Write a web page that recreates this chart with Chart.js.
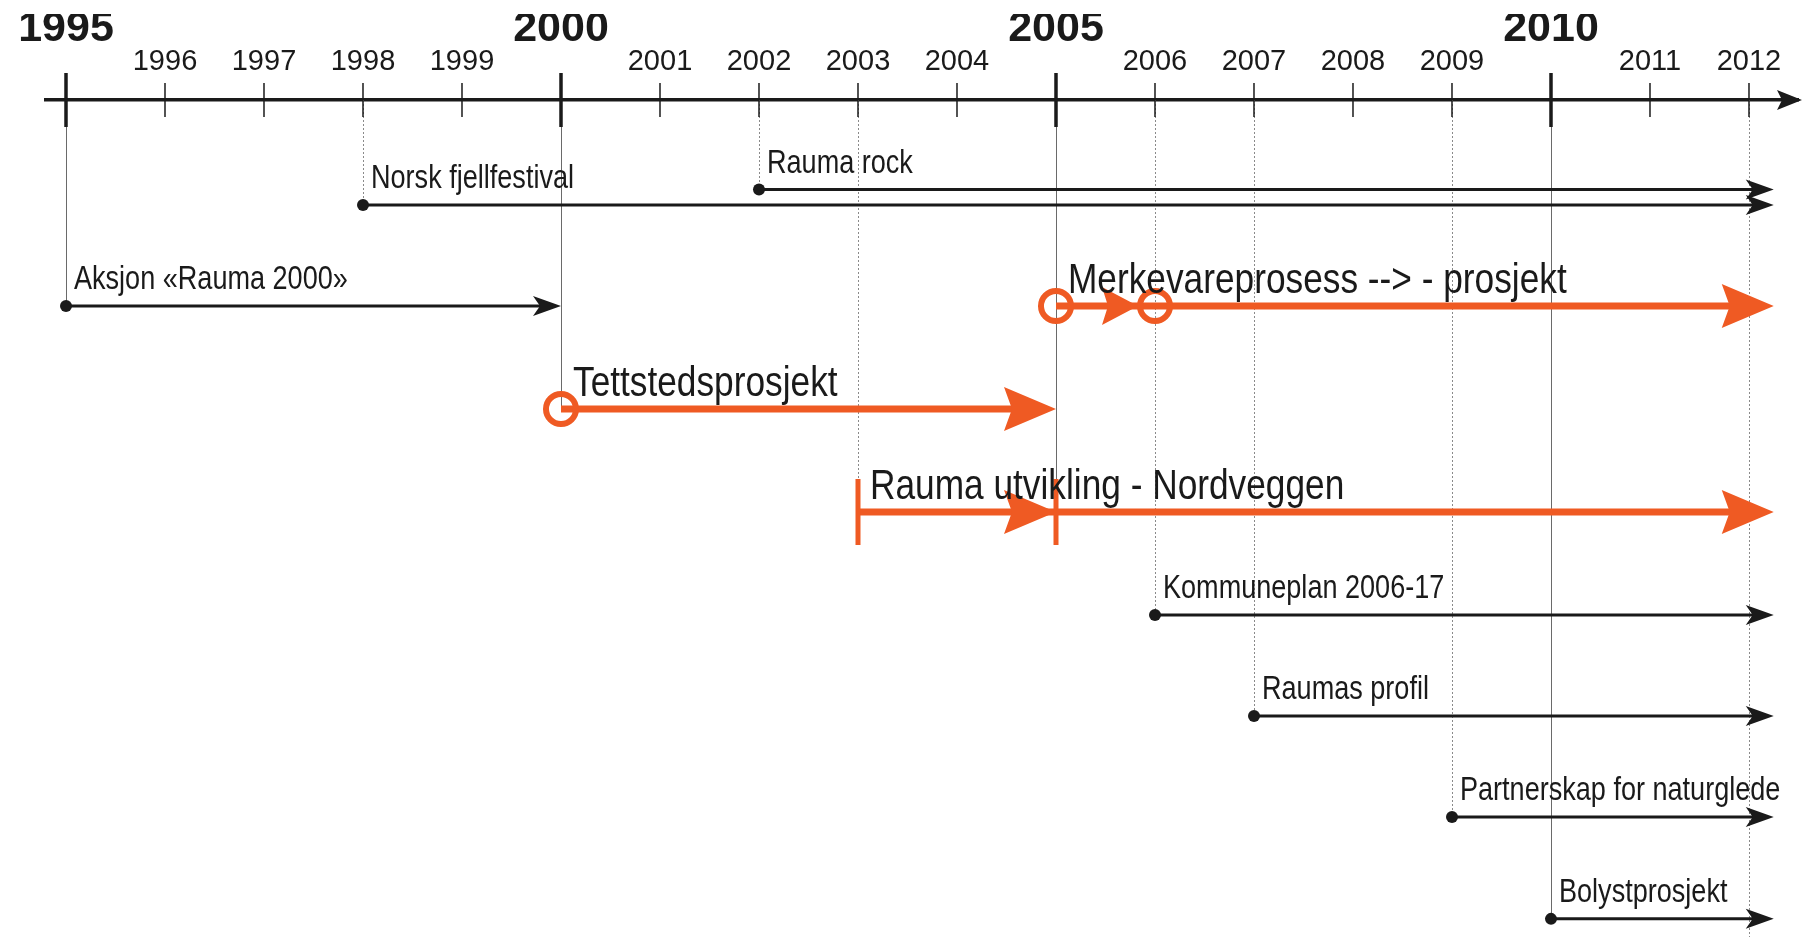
<!DOCTYPE html>
<html>
<head>
<meta charset="utf-8">
<title>Rauma – tidslinje</title>
<script src="https://cdn.jsdelivr.net/npm/chart.js@4.4.0/dist/chart.umd.min.js"></script>
<style>
  html, body { margin: 0; padding: 0; background: #fff; }
  #wrap { width: 1808px; height: 937px; position: relative; }
</style>
</head>
<body>
<div id="wrap"><canvas id="timelineChart"></canvas></div>
<script>
// Years on the time axis
const tickYears = [1995, 1996, 1997, 1998, 1999, 2000, 2001, 2002, 2003, 2004,
                   2005, 2006, 2007, 2008, 2009, 2010, 2011, 2012];
const majorYears = [1995, 2000, 2005, 2010];

// One entry per project / event
const eventNames = [
  'Rauma rock',
  'Norsk fjellfestival',
  'Aksjon «Rauma 2000»',
  'Merkevareprosess --> - prosjekt',
  'Tettstedsprosjekt',
  'Rauma utvikling - Nordveggen',
  'Kommuneplan 2006-17',
  'Raumas profil',
  'Partnerskap for naturglede',
  'Bolystprosjekt'
];
const startYears = [2002, 1998, 1995, 2005, 2000, 2003, 2006, 2007, 2009, 2010];
const midYears   = [null, null, null, 2006, null, 2005, null, null, null, null];
const endYears   = [2012.25, 2012.25, 2000, 2012.25, 2005, 2012.25, 2012.25, 2012.25, 2012.25, 2012.25];
const eventRows  = [0.87, 1.02, 2, 2, 3, 4, 5, 5.98, 6.96, 7.95];
const eventKinds = ['event', 'event', 'event', 'project', 'project', 'project', 'event', 'event', 'event', 'event'];
const startMarks = ['dot', 'dot', 'dot', 'ring', 'ring', 'bar', 'dot', 'dot', 'dot', 'dot'];

const ORANGE = '#ef5a23';
const INK = '#1a1a1a';
const SANS = '"Liberation Sans", Arial, sans-serif';

const datasets = eventNames.map((name, i) => {
  const pts = [{ x: startYears[i], y: eventRows[i] }];
  if (midYears[i] !== null) pts.push({ x: midYears[i], y: eventRows[i] });
  pts.push({ x: endYears[i], y: eventRows[i] });
  const project = eventKinds[i] === 'project';
  const mark = startMarks[i];
  const r = mark === 'dot' ? 6 : (mark === 'ring' ? 15 : 33);
  return {
    label: name,
    data: pts,
    borderColor: project ? ORANGE : INK,
    borderWidth: project ? 7 : 3,
    borderCapStyle: 'butt',
    tension: 0,
    fill: false,
    clip: false,
    pointStyle: mark === 'bar' ? 'line' : 'circle',
    pointRotation: mark === 'bar' ? 90 : 0,
    pointRadius: pts.map((p, k) => (k === pts.length - 1 ? 0 : r)),
    pointHoverRadius: pts.map((p, k) => (k === pts.length - 1 ? 0 : r)),
    pointBorderWidth: mark === 'dot' ? 0 : (mark === 'ring' ? 6 : 5),
    pointBorderColor: project ? ORANGE : INK,
    pointBackgroundColor: mark === 'dot' ? INK : 'rgba(0,0,0,0)'
  };
});

function arrowHead(ctx, tipX, y, len, half, notch, color) {
  ctx.beginPath();
  ctx.moveTo(tipX, y);
  ctx.lineTo(tipX - len, y - half);
  ctx.lineTo(tipX - len + notch, y);
  ctx.lineTo(tipX - len, y + half);
  ctx.closePath();
  ctx.fillStyle = color;
  ctx.fill();
}

const timelinePlugin = {
  id: 'timeline',
  beforeDatasetsDraw(chart) {
    // thin guide lines from the axis down to where each item starts
    const { ctx, chartArea, scales: { x, y } } = chart;
    const depth = {};
    eventNames.forEach((n, i) => {
      [startYears[i], midYears[i]].forEach(yr => {
        if (yr === null) return;
        depth[yr] = Math.max(depth[yr] || 0, y.getPixelForValue(eventRows[i]));
      });
    });
    depth[tickYears[tickYears.length - 1]] = chartArea.bottom;
    ctx.save();
    Object.keys(depth).forEach(k => {
      const yr = Number(k);
      const px = Math.round(x.getPixelForValue(yr)) + 0.5;
      ctx.beginPath();
      if (majorYears.includes(yr)) {
        ctx.setLineDash([]);
        ctx.strokeStyle = '#6a6a6a';
      } else {
        ctx.setLineDash([2, 2]);
        ctx.strokeStyle = '#8a8a8a';
      }
      ctx.lineWidth = 1;
      ctx.moveTo(px, chartArea.top);
      ctx.lineTo(px, depth[k]);
      ctx.stroke();
    });
    ctx.restore();
  },
  beforeDatasetDraw(chart, args) {
    // keep the line end hidden under the arrow head
    const pts = args.meta.data;
    const last = pts[pts.length - 1];
    const cut = eventKinds[args.index] === 'project' ? 12 : 6;
    const ctx = chart.ctx;
    ctx.save();
    ctx.beginPath();
    ctx.rect(0, 0, last.x - cut, chart.height);
    ctx.clip();
  },
  afterDatasetDraw(chart, args) {
    const ctx = chart.ctx;
    ctx.restore();
    const i = args.index;
    const pts = args.meta.data;
    const last = pts[pts.length - 1];
    if (eventKinds[i] === 'project') {
      arrowHead(ctx, last.x, last.y, 52, 22, 8, ORANGE);
      if (midYears[i] !== null) {
        const mid = pts[1];
        if (startMarks[i] === 'ring') {
          arrowHead(ctx, mid.x - 17, mid.y, 36, 19, 6, ORANGE);
        } else {
          arrowHead(ctx, mid.x, mid.y, 52, 22, 8, ORANGE);
        }
      }
    } else {
      arrowHead(ctx, last.x, last.y, 28, 10, 7, INK);
    }
  },
  afterDatasetsDraw(chart) {
    // item names, in a narrowed sans to match the condensed lettering
    const { ctx, scales: { x, y } } = chart;
    eventNames.forEach((name, i) => {
      const project = eventKinds[i] === 'project';
      const px = x.getPixelForValue(startYears[i]) + (project ? 12 : 8);
      const py = y.getPixelForValue(eventRows[i]) - (project ? 13 : 17);
      ctx.save();
      ctx.translate(px, py);
      ctx.scale(0.82, 1);
      ctx.font = (project ? '43px ' : '33px ') + SANS;
      ctx.fillStyle = INK;
      ctx.textBaseline = 'alphabetic';
      ctx.textAlign = 'left';
      ctx.fillText(name, 0, 0);
      ctx.restore();
    });
  },
  afterDraw(chart) {
    // tick marks crossing the axis + arrow at its end
    const { ctx, chartArea, scales: { x } } = chart;
    const axisY = chartArea.top;
    ctx.save();
    ctx.strokeStyle = INK;
    x.ticks.forEach(t => {
      const px = x.getPixelForValue(t.value);
      const major = majorYears.includes(t.value);
      ctx.lineWidth = major ? 3.5 : 1.5;
      ctx.beginPath();
      ctx.moveTo(px, axisY - (major ? 27 : 17));
      ctx.lineTo(px, axisY + (major ? 27 : 17));
      ctx.stroke();
    });
    arrowHead(ctx, chartArea.right + 4, axisY, 25, 10, 5, INK);
    ctx.restore();
  }
};

const sharedX = {
  type: 'linear',
  position: 'top',
  min: 1994.798,
  max: 2012.495,
  bounds: 'data',
  afterBuildTicks: scale => { scale.ticks = tickYears.map(v => ({ value: v })); }
};

const config = {
  type: 'line',
  data: { datasets: datasets },
  options: {
    responsive: true,
    maintainAspectRatio: false,
    animation: false,
    events: [],
    layout: { autoPadding: false, padding: { top: 14, left: 46, right: 10, bottom: 0 } },
    plugins: {
      legend: { display: false },
      tooltip: { enabled: false }
    },
    scales: {
      x: Object.assign({}, sharedX, {
        weight: 0,
        grid: { display: false, drawTicks: true, tickLength: 21 },
        border: { display: true, color: INK, width: 3.5 },
        ticks: {
          autoSkip: false,
          maxRotation: 0,
          includeBounds: false,
          padding: 3,
          color: INK,
          font: { family: SANS, size: 29, lineHeight: '28px' },
          callback: v => (majorYears.includes(v) ? '' : String(v))
        }
      }),
      x2: Object.assign({}, sharedX, {
        weight: 1,
        grid: { display: false, drawTicks: false },
        border: { display: false },
        ticks: {
          autoSkip: false,
          maxRotation: 0,
          includeBounds: false,
          padding: 0,
          color: INK,
          font: { family: SANS, size: 43, weight: 'bold', lineHeight: '31px' },
          callback: v => (majorYears.includes(v) ? String(v) : '')
        }
      }),
      y: {
        type: 'linear',
        display: false,
        reverse: true,
        min: 0,
        max: 8.126
      }
    }
  },
  plugins: [timelinePlugin]
};

window.addEventListener('DOMContentLoaded', () => {
  new Chart(document.getElementById('timelineChart'), config);
});
</script>
</body>
</html>
